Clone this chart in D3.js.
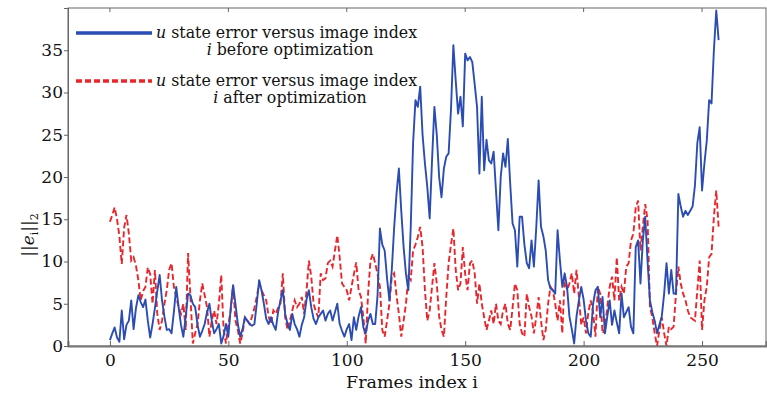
<!DOCTYPE html>
<html>
<head>
<meta charset="utf-8">
<script src="https://cdn.jsdelivr.net/npm/d3@7"></script>
<style>
  html, body { margin: 0; padding: 0; background: #fff; }
  svg { display: block; font-family: 'DejaVu Serif', 'Liberation Serif', serif; }
</style>
</head>
<body>
<div id="chart"></div>
<script>
// u state error ||e_i||_2 per frame (frames 0..257)
const before = [
  0.7, 1.5, 2.2, 1.0, 0.5, 4.2, 0.8, 2.5, 3.0, 5.4,
  2.0, 4.5, 6.0, 5.2, 4.6, 5.5, 3.0, 1.0, 2.6, 4.5,
  6.5, 8.4, 5.4, 3.5, 1.9, 2.0, 1.5, 4.0, 7.0, 4.6,
  2.5, 1.1, 3.5, 6.2, 6.0, 5.0, 4.6, 2.5, 1.1, 1.8,
  2.6, 4.0, 5.0, 3.0, 1.5, 2.0, 2.6, 0.3, 1.2, 2.6,
  1.1, 4.5, 7.2, 5.0, 2.6, 1.1, 2.0, 3.4, 3.0, 2.6,
  2.4, 2.6, 5.0, 7.8, 6.6, 5.0, 3.2, 2.6, 3.4, 2.5,
  1.9, 4.0, 5.4, 6.6, 3.8, 2.6, 1.9, 3.8, 2.6, 2.0,
  1.1, 2.5, 3.4, 5.5, 6.6, 4.6, 3.2, 2.6, 3.4, 3.8,
  4.2, 3.0, 3.8, 4.2, 3.0, 4.0, 5.0, 2.6, 1.8, 1.1,
  2.0, 2.6, 0.7, 3.4, 1.9, 3.5, 4.6, 2.2, 1.5, 3.0,
  3.8, 2.6, 2.6, 6.0, 13.9, 12.0, 11.3, 8.0, 5.4, 9.0,
  14.0, 18.0, 21.0, 16.0, 11.7, 8.5, 6.6, 14.0, 24.0, 29.1,
  28.3, 30.7, 25.0, 21.6, 18.8, 15.1, 22.0, 28.3, 25.0, 20.0,
  17.6, 21.0, 22.4, 22.8, 28.0, 35.6, 31.4, 27.5, 29.5, 26.0,
  34.6, 33.8, 34.2, 33.6, 31.0, 28.3, 20.4, 29.5, 20.8, 24.4,
  22.0, 21.6, 23.0, 18.4, 13.7, 20.0, 22.8, 21.2, 24.5, 19.2,
  14.5, 13.7, 9.4, 15.3, 15.3, 12.0, 9.8, 9.2, 12.5, 9.4,
  14.0, 19.6, 14.1, 13.0, 11.3, 7.8, 6.8, 6.6, 6.2, 13.7,
  10.1, 7.0, 8.6, 7.0, 3.5, 2.0, 0.3, 3.5, 5.4, 7.0,
  5.5, 3.0, 1.5, 1.1, 5.0, 6.6, 7.0, 3.4, 5.8, 1.5,
  3.5, 5.4, 2.5, 4.2, 2.8, 1.5, 6.2, 3.4, 4.0, 4.6,
  2.3, 1.5, 11.7, 12.5, 7.4, 12.5, 15.3, 10.0, 5.4, 4.0,
  3.0, 1.5, 2.5, 3.5, 6.2, 9.8, 6.2, 9.0, 6.2, 6.2,
  18.0, 16.5, 15.3, 16.0, 15.5, 16.0, 16.5, 19.0, 24.0, 25.9,
  18.4, 21.6, 24.3, 29.1, 28.7, 35.0, 39.7, 36.2
];

const after = [
  14.7, 15.5, 16.4, 15.0, 13.0, 9.7, 14.0, 15.5, 13.3, 10.1,
  10.5, 9.5, 7.8, 5.4, 6.5, 7.0, 9.3, 8.5, 5.0, 9.0,
  3.8, 1.9, 3.0, 5.0, 6.6, 9.0, 9.8, 7.0, 5.8, 4.6,
  3.8, 5.0, 1.9, 11.0, 5.8, 0.3, 1.5, 2.6, 5.4, 7.4,
  6.0, 4.6, 1.1, 3.0, 4.2, 2.6, 5.0, 8.4, 1.9, 0.3,
  2.5, 4.2, 7.2, 3.0, 1.9, 0.3, 1.5, 3.4, 3.0, 2.6,
  3.5, 4.5, 5.8, 7.4, 6.6, 6.0, 5.4, 3.5, 2.6, 4.2,
  3.8, 4.5, 5.0, 8.6, 3.4, 1.9, 3.0, 4.2, 5.4, 4.6,
  5.0, 5.8, 3.8, 6.5, 10.1, 8.2, 5.0, 4.0, 3.4, 8.6,
  7.8, 8.0, 9.8, 10.1, 9.4, 11.3, 13.1, 10.5, 7.4, 7.0,
  6.6, 5.4, 7.0, 8.5, 9.9, 6.6, 5.8, 3.4, 0.3, 6.2,
  10.1, 10.9, 9.8, 8.5, 7.0, 1.9, 1.1, 3.0, 5.0, 8.2,
  8.6, 6.0, 3.8, 1.1, 3.0, 5.0, 8.2, 7.8, 11.3, 12.0,
  12.9, 14.1, 11.7, 6.6, 3.0, 4.2, 7.0, 9.8, 7.4, 3.5,
  1.9, 1.1, 5.8, 9.8, 12.0, 13.9, 9.0, 6.6, 7.4, 11.7,
  8.5, 6.6, 9.8, 10.1, 8.6, 5.0, 7.4, 5.0, 3.4, 1.9,
  3.0, 4.2, 2.6, 5.0, 3.0, 2.6, 4.2, 5.0, 2.6, 1.9,
  4.5, 7.4, 6.6, 2.6, 1.5, 1.1, 6.2, 4.6, 3.5, 1.5,
  3.4, 5.8, 3.0, 0.7, 1.9, 5.0, 7.0, 6.6, 5.0, 3.0,
  5.4, 1.5, 8.2, 6.6, 7.4, 8.6, 6.2, 9.0, 5.8, 2.5,
  3.4, 1.5, 4.0, 5.4, 4.0, 1.1, 7.0, 6.2, 1.5, 2.0,
  4.6, 7.0, 8.2, 5.4, 10.5, 5.4, 7.0, 6.2, 9.4, 9.8,
  12.5, 13.3, 16.4, 17.2, 11.3, 14.1, 16.8, 14.9, 4.6, 3.4,
  1.5, 0.0, 1.9, 3.4, 1.5, 0.0, 2.3, 2.0, 2.3, 6.2,
  9.4, 7.4, 6.2, 5.4, 4.2, 3.4, 3.2, 3.0, 6.6, 10.1,
  1.9, 5.4, 7.0, 10.5, 10.9, 15.3, 18.4, 14.1
];

const xTicks = [0, 50, 100, 150, 200, 250];
const yTicks = [0, 5, 10, 15, 20, 25, 30, 35];
const legendItems = [
  { lines: ['state error versus image index', 'before optimization'], color: '#2b4db3', dash: null },
  { lines: ['state error versus image index', 'after optimization'], color: '#e8262b', dash: '6 3' }
];

const width = 767;
const height = 394;
const margin = { top: 8, right: 1, bottom: 48, left: 68 };
const innerWidth = width - margin.left - margin.right;
const innerHeight = height - margin.top - margin.bottom;

const x = d3.scaleLinear().domain([-17.7, 277]).range([0, innerWidth]);
const y = d3.scaleLinear().domain([0, 40]).range([innerHeight, 0]);

const svg = d3.select('#chart').append('svg')
  .attr('width', width)
  .attr('height', height);

const plot = svg.append('g')
  .attr('transform', `translate(${margin.left},${margin.top})`);

// frame
plot.append('rect')
  .attr('width', innerWidth)
  .attr('height', innerHeight)
  .attr('fill', 'none')
  .attr('stroke', '#666')
  .attr('stroke-width', 1);

const line = d3.line()
  .x((d, i) => x(i))
  .y((d) => y(d));

plot.append('path')
  .datum(after)
  .attr('d', line)
  .attr('fill', 'none')
  .attr('stroke', '#e8262b')
  .attr('stroke-width', 1.9)
  .attr('stroke-dasharray', '6 3');

plot.append('path')
  .datum(before)
  .attr('d', line)
  .attr('fill', 'none')
  .attr('stroke', '#2b4db3')
  .attr('stroke-width', 1.9)
  .attr('stroke-linejoin', 'round');

// axes
const xAxis = plot.append('g')
  .attr('transform', `translate(0,${innerHeight})`)
  .call(d3.axisBottom(x).tickValues(xTicks).tickSize(-5).tickPadding(8));
xAxis.select('.domain').attr('stroke', '#777').attr('stroke-width', 2);

// inward ticks on the top edge, no labels
plot.append('g')
  .selectAll('line')
  .data(xTicks)
  .join('line')
  .attr('x1', (d) => x(d))
  .attr('x2', (d) => x(d))
  .attr('y1', 0)
  .attr('y2', 4)
  .attr('stroke', '#666');

const yAxis = plot.append('g')
  .call(d3.axisLeft(y).tickValues(yTicks).tickSize(4).tickPadding(1));
yAxis.select('.domain').attr('stroke', '#666');

svg.selectAll('.tick line').attr('stroke', '#666');
svg.selectAll('.tick text')
  .attr('font-family', "'DejaVu Serif', serif")
  .attr('font-size', 17)
  .attr('fill', '#111');

// axis labels
svg.append('text')
  .attr('x', 412)
  .attr('y', 388)
  .attr('text-anchor', 'middle')
  .attr('font-size', 17.5)
  .attr('fill', '#111')
  .text('Frames index i');

const yLab = svg.append('text')
  .attr('transform', 'translate(34,235) rotate(-90)')
  .attr('text-anchor', 'middle')
  .attr('font-size', 17)
  .attr('fill', '#111');
yLab.append('tspan').text('||');
yLab.append('tspan').attr('font-style', 'italic').text('e');
yLab.append('tspan').attr('font-size', 11).attr('dy', 4).text('i');
yLab.append('tspan').attr('dy', -4).text('||');
yLab.append('tspan').attr('font-size', 11).attr('dy', 4).text('2');

// legend
const legend = svg.append('g');
legendItems.forEach((item, k) => {
  const top = 33 + k * 48;
  legend.append('line')
    .attr('x1', 76).attr('x2', 152)
    .attr('y1', top).attr('y2', top)
    .attr('stroke', item.color)
    .attr('stroke-width', 3.5)
    .attr('stroke-dasharray', item.dash);

  const t1 = legend.append('text')
    .attr('x', 156)
    .attr('y', top + 5)
    .attr('font-size', 15.8)
    .attr('fill', '#111');
  t1.append('tspan').attr('font-style', 'italic').text('u');
  t1.append('tspan').text(' ' + item.lines[0]);

  const t2 = legend.append('text')
    .attr('x', 290)
    .attr('y', top + 22)
    .attr('text-anchor', 'middle')
    .attr('font-size', 15.8)
    .attr('fill', '#111');
  t2.append('tspan').attr('font-style', 'italic').text('i');
  t2.append('tspan').text(' ' + item.lines[1]);
});
</script>
</body>
</html>
